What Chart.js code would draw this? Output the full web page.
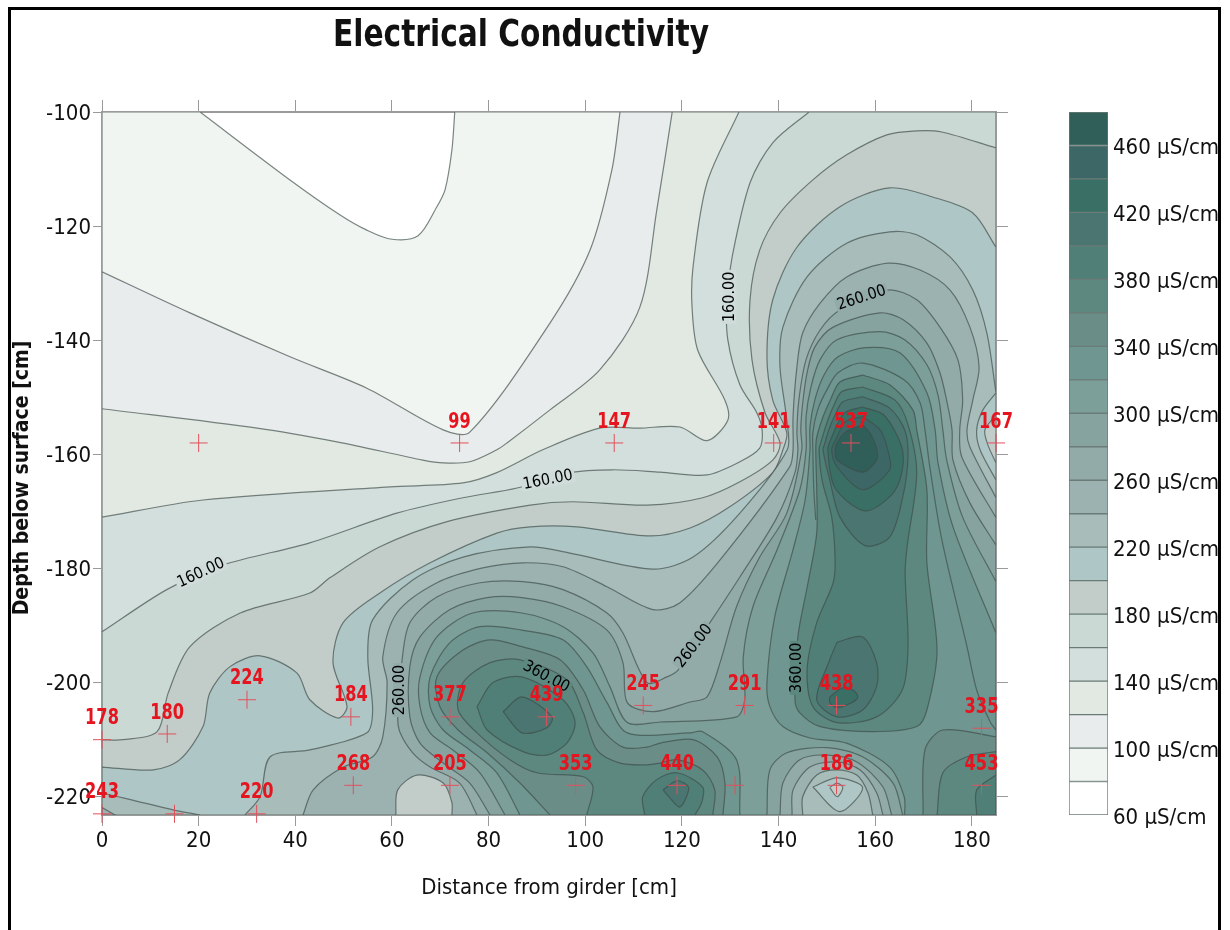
<!DOCTYPE html>
<html>
<head>
<title>Electrical Conductivity</title>
<meta charset="utf-8">
<style>
  html, body { margin: 0; padding: 0; background: #fff; overflow: hidden; }
  #frame { position: absolute; left: 8px; top: 7px; width: 1207px; height: 930px; border: 3px solid #000; box-sizing: content-box; }
  #plot { position: absolute; left: 0; top: 0; }
  #scale { position: absolute; left: 1069px; top: 100px; }
</style>
</head>
<body>
<div id="frame"></div>
<canvas id="plot" width="1230" height="930"></canvas>
<canvas id="scale" width="155" height="740"></canvas>
<script src="https://cdn.jsdelivr.net/npm/chart.js@4/dist/chart.umd.min.js"></script>
<script>
// axis values
const xTicks = [0, 20, 40, 60, 80, 100, 120, 140, 160, 180];
const yTicks = [-220, -200, -180, -160, -140, -120, -100];
const scaleTicks = [60, 100, 140, 180, 220, 260, 300, 340, 380, 420, 460];

// one colour per 20 uS/cm band, from 60 up to 480
const bandLevels = [60, 80, 100, 120, 140, 160, 180, 200, 220, 240, 260, 280, 300, 320, 340, 360, 380, 400, 420, 440, 460];
const bandColors = ['#ffffff', '#f1f5f1', '#e8ecec', '#e2e9e3', '#d3dfdd', '#cbd9d5', '#c2cdc9', '#afc6c6', '#a8bcb9', '#9bb2b1', '#92aba9',
  '#86a39f', '#7c9f99', '#6f9690', '#6b8d88', '#5c8880', '#4f7f77', '#4a7571', '#3a6f65', '#3d6767', '#2f5f58'];

// measurement points
const pointX = [74, 106, 139, 155, 185, 20, 92, 72, 51.5, 30, 13.5, 0, 112, 133, 152, 182, 52, 72, 98, 119, 131, 152, 182, 0, 15, 32];
const pointY = [-158, -158, -158, -158, -158, -158, -206, -206, -206, -203, -209, -210, -204, -204, -204, -208, -218, -218, -218, -218, -218, -218, -218, -223, -223, -223];
const pointText = ['99', '147', '141', '537', '167', '', '439', '377', '184', '224', '180', '178', '245', '291', '438', '335', '268', '205', '353', '440', '', '186', '453', '243', '', '220'];

// labels sitting on the contour lines
const lineText = ['160.00', '260.00', '160.00', '160.00', '260.00', '360.00', '260.00', '360.00'];
const lineX = [129.9, 157.2, 20.5, 92.3, 61.7, 91.9, 122.5, 143.8];
const lineY = [-132.4, -132.6, -180.8, -164.5, -201.3, -199, -193.6, -197.4];
const lineTurn = [-90, -18, -25, -11, -90, 28, -52, -90];
const lineGap = ['#cfdcd9', '#92aba9', '#cfdcd9', '#cfdcd9', '#92aba9', '#5c8880', '#92aba9', '#5c8880'];

// contours, [distance, depth]
const c80 = [[0,-100],[20.3,-100],[38.9,-111.9],[49.2,-118],[54.8,-120.7],[60,-122.3],[65.4,-121.7],[69.3,-116.6],[71,-113.6],[72.4,-106.7],[73,-100],[185,-100],[185,-223.2],[0,-223.2]];
const c100 = [[0,-128],[18.2,-135.2],[38.9,-142.9],[54.8,-148.4],[70.6,-155.7],[76.1,-156.1],[92.7,-137],[101,-124.2],[105.5,-110.2],[107.2,-100],[185,-100],[185,-223.2],[0,-223.2]];
const c120 = [[0,-152],[32.1,-155.4],[48.6,-157.8],[66.4,-161],[70.6,-161.5],[76.1,-161.3],[81.7,-159.2],[83.8,-158],[92.7,-152.2],[103,-145.2],[111.3,-134.2],[114.8,-117.2],[118,-100],[185,-100],[185,-223.2],[0,-223.2]];
const c140 = [[0,-171],[20.9,-168],[59.6,-165.7],[74.7,-165],[81.7,-163.2],[91.2,-159.2],[103,-155.4],[111.3,-155.4],[119.6,-155.2],[125.2,-157.6],[129.5,-154],[128.9,-150.5],[123.3,-141.8],[122.1,-134.2],[122.3,-127.2],[125.2,-112.4],[131.8,-100],[185,-100],[185,-223.2],[0,-223.2]];
const c160 = [[0,-191.1],[13.4,-183.7],[25,-179.4],[43,-175.5],[61,-170.3],[74.7,-167.6],[85.9,-165.9],[96.8,-163.2],[105.7,-162.7],[115.5,-163.1],[125.2,-163.6],[132,-161.3],[136.1,-158.9],[136.6,-155.7],[135.5,-152.7],[132,-147.8],[129.5,-139.9],[129.3,-132.9],[130.4,-125.4],[134.1,-112.4],[138.8,-105.4],[146.3,-100],[185,-100],[185,-223.2],[0,-223.2]];
const c180 = [[0,-210],[4.3,-210],[11.4,-208.6],[13.7,-201.8],[18.2,-193.7],[28.6,-187.8],[43,-184.3],[47.2,-181.6],[57.5,-176.2],[71.4,-171.8],[88.6,-168.9],[97.4,-168.3],[112.8,-168.9],[124.3,-167.6],[132,-164.8],[138.8,-161],[140.3,-158],[137.2,-152.7],[134.5,-143.4],[134.1,-132.9],[136.1,-124.2],[140.3,-117.7],[147.1,-111.9],[154.1,-107.5],[162.4,-104],[168.6,-103.3],[173.8,-103.5],[185,-106.3],[185,-223.2],[0,-223.2]];
const c200 = [[0,-214.8],[10.6,-215.3],[16.1,-213.5],[20.9,-207.7],[22.3,-201.8],[26.5,-197.2],[32.7,-195.3],[40.3,-198.3],[43,-203],[48.8,-206.2],[50.7,-204.2],[47.8,-196.5],[49.9,-189.5],[57.5,-184.3],[67.9,-179],[81.7,-173.8],[88.6,-172.7],[98.3,-172.7],[113.4,-174.3],[121.7,-172.9],[129.9,-169.2],[138.8,-163.2],[140.9,-159.2],[141.7,-156.2],[138.8,-150.5],[137.6,-142.9],[138.8,-132.9],[143.8,-123.7],[152.7,-116.6],[163,-113.3],[171.9,-114.9],[180.2,-117.7],[185,-123.7],[185,-153.1],[182.7,-155.7],[183.3,-158.3],[185,-161.5],[185,-223.2],[0,-223.2]];
const c220a = [[0,-219.3],[14.7,-222.3],[20.3,-223.2],[0,-223.2]];
const c220b = [[29.6,-223.2],[32.7,-220],[34.8,-213],[43,-211.8],[54.8,-208.8],[56,-204.8],[55,-195.5],[56,-189],[64.3,-182],[74.7,-178],[88.6,-176.2],[96.8,-177.3],[114,-180.1],[122.3,-178],[132,-170.3],[141.8,-159.2],[141.7,-154],[140.3,-144.7],[140.9,-137.7],[145.9,-128.9],[154.1,-123],[163,-121],[168.6,-121.5],[175.5,-125.4],[180.2,-131.2],[183.1,-138.7],[185,-149.2],[182.3,-152.2],[181,-155.7],[181.7,-159.2],[185,-164.5],[185,-223.2]];
const c240a = [[0,-221.9],[2.7,-223.2],[0,-223.2]];
const c240b = [[41.6,-223.2],[43.7,-218.8],[49.9,-214.8],[56,-213],[58.1,-209.5],[59,-200],[58.1,-195.5],[61,-187.8],[69.3,-182.5],[78.8,-179.9],[87.1,-179],[95.4,-179.7],[104.5,-183.2],[114,-187.2],[119.6,-186],[127.9,-178.5],[142.3,-162.2],[143,-159.2],[143,-153.4],[143.8,-144.7],[145,-138.7],[148.6,-133.5],[154.1,-128.9],[162.6,-126.5],[169.3,-127.7],[175.5,-131.2],[179.6,-137.7],[181.5,-144.7],[180.2,-150.5],[179,-155.7],[179.6,-158.7],[185,-167.6],[185,-223.2]];
const c260 = [[77.6,-223.2],[74,-217.6],[67.9,-214.8],[64.3,-212.3],[61.7,-208.8],[61.2,-206],[62.1,-196],[63.7,-189.5],[69.3,-185],[78.2,-182.5],[87.1,-182.3],[95.4,-183.7],[104.5,-187.8],[107.8,-191.3],[112.8,-200],[116.9,-199],[119.2,-197.8],[125.8,-189.5],[132,-181.5],[139.7,-171],[143.4,-163.2],[144,-159.2],[143.8,-156.2],[144.2,-150.5],[145.7,-143.4],[148.6,-138.2],[152.7,-134.7],[162.6,-131.2],[168.6,-132.9],[173.4,-137.7],[177.1,-143.4],[178.1,-150.5],[177.5,-155.7],[177.9,-160.4],[185,-171.1],[185,-223.2]];
const c280 = [[80.3,-223.2],[76.1,-217.6],[70.6,-214.1],[65.8,-210.6],[63.7,-206],[63.7,-197.2],[65.8,-192],[72,-187.2],[79.7,-185.1],[86.9,-185.1],[95.4,-186.7],[104.5,-190.8],[107.8,-196.5],[108.7,-203.5],[114,-205.1],[121.7,-203.4],[125.2,-202.5],[127.9,-196.5],[131.3,-186.7],[136.1,-178],[141.7,-170.3],[144.8,-159.2],[144.6,-155.7],[145,-151],[145.9,-145.7],[147.5,-141.2],[151.3,-137.7],[161,-135.2],[165.8,-136.4],[170.7,-140.5],[173.4,-145.7],[174.9,-151],[175.9,-155.7],[176.1,-161],[179.6,-168.5],[185,-175.9],[185,-223.2]];
const c300 = [[83.4,-223.2],[78.2,-215.8],[72.6,-211.8],[67.9,-208.8],[65.8,-204.2],[65.8,-199],[69.3,-192],[76.7,-187.8],[86.9,-187.8],[95.4,-190.2],[101.6,-194.8],[105.1,-200.7],[108.7,-207],[115.5,-206.9],[131.3,-206],[133,-203],[132.7,-195.5],[134.7,-186.7],[139.7,-176.7],[144.4,-166.2],[145.7,-159.2],[145.7,-153.4],[146.7,-148.2],[148.6,-143.4],[152.1,-139.9],[161,-138.5],[166.1,-139.9],[170.7,-144.3],[173,-149.6],[174,-155.7],[174.8,-161],[178.1,-171],[185,-182.3],[185,-223.2]];
const c320a = [[86.5,-223.2],[81.7,-215.8],[76.1,-211.8],[70.6,-208.3],[67.9,-204.2],[67.9,-199],[72,-193],[78.2,-190.2],[86.9,-190.8],[95.4,-192.5],[100.3,-197.2],[104.5,-203.5],[108.7,-208.8],[121.7,-208.8],[124.3,-208.6],[131.3,-213.5],[132,-223.2]];
const c320b = [[166.1,-223.2],[166,-220],[163,-214.8],[154.1,-210.6],[146.5,-209.7],[140.9,-207.7],[138.2,-204.2],[137.6,-200],[139.2,-188.5],[143,-176.7],[145.5,-168],[146.5,-159.2],[146.5,-155.2],[147.5,-150.5],[149.4,-146.1],[152.3,-142.9],[157.9,-141.3],[165.1,-142.2],[170.7,-149.2],[172.4,-155.7],[173,-161.5],[176.1,-172.7],[185,-191.3],[185,-223.2]];
const c340a = [[92.7,-223.2],[86.5,-217.6],[79.7,-212.3],[73.7,-208.3],[69.9,-204.2],[69.3,-199],[74.7,-194.3],[80.3,-192.5],[86.9,-193.7],[94.8,-196],[99.6,-201.3],[103,-207.7],[107.8,-211.3],[112.8,-211.3],[115.5,-210.6],[122.3,-210],[127.3,-213],[128.9,-217.6],[128.5,-223.2]];
const c340b = [[169.9,-223.2],[170.3,-211.8],[174,-208.3],[185,-209.5],[185,-223.2]];
const c360a = [[100.3,-223.2],[101.6,-218.3],[99.6,-216.5],[90,-215.8],[84.4,-213.5],[77.6,-208.8],[73.7,-204.8],[74.7,-200],[80.3,-196.5],[86.5,-196],[96.2,-199.5],[99.6,-205.3],[102.4,-211.8],[107.2,-214.1],[112.8,-214.4],[115.5,-214.1],[119,-213.5],[124.3,-215.3],[126.8,-218.8],[126.4,-223.2]];
const c360b = [[157.4,-146.1],[163,-147.8],[167.8,-152.2],[168.6,-155.7],[170.7,-166.2],[170.7,-179],[172.8,-194.3],[170.7,-204.8],[168.6,-207.7],[159.5,-208.6],[148.6,-207.7],[144.4,-205.3],[143.4,-203],[144,-192],[146.1,-182.5],[147.9,-173.8],[147.9,-166.2],[147.7,-159.2],[147.9,-157],[149.2,-153.4],[150.7,-150.5],[152.7,-147.3]];
const c360c = [[172.8,-223.2],[174,-215.8],[179,-213],[185,-212.1],[185,-223.2]];
const c380a = [[77.6,-204.2],[80.9,-200],[86.9,-199],[95.4,-203],[97.9,-207],[96.2,-210.6],[92.1,-212.7],[87.1,-212.1],[79.7,-208.3]];
const c380b = [[112.3,-223.2],[111.9,-220],[114.8,-217],[119,-215.8],[124.3,-218.3],[124.1,-221],[122.7,-223.2]];
const c380c = [[157.4,-148.2],[164.1,-150.5],[166.8,-154.8],[168.6,-163.2],[166.6,-176.2],[166.2,-180.8],[166.8,-193.7],[165.6,-201.3],[160.3,-206],[152.1,-207],[147.1,-204.2],[145.9,-197.8],[147.9,-189.5],[151.3,-182.5],[151.7,-178.5],[151,-171],[149,-164.5],[148.4,-159.2],[148.8,-157.8],[150,-154.5],[151.3,-151.7],[153.1,-149]];
const c380d = [[181,-223.2],[181,-218.8],[185,-216.2],[185,-223.2]];
const c400a = [[83,-205.1],[86.9,-202.5],[93.1,-206],[92.1,-207.9],[86.9,-208.8]];
const c400b = [[116.1,-218.8],[119,-217.2],[121.4,-218.4],[119.6,-221.8],[117.5,-220.2]];
const c400c = [[157.4,-149.9],[163,-151.9],[166.1,-155.7],[166.8,-160.4],[165.7,-167.5],[163,-174.5],[157.9,-176],[152.7,-171],[150.6,-164.5],[149.2,-159.2],[149.6,-158],[150.4,-155.7],[151.7,-153.1],[153.3,-150.8]];
const c400d = [[152.1,-192.9],[157.4,-192],[160.3,-196.5],[160.3,-200.7],[157.4,-204.8],[152.1,-206],[147.9,-203],[150.6,-196]];
const c420a = [[157.4,-151.7],[161.8,-153.1],[165.5,-158.7],[165.5,-163.2],[163.4,-167.1],[157.9,-169.9],[151.7,-165.9],[150.2,-159.2],[151,-157],[152.3,-154.5],[153.8,-152.6]];
const c420b = [[150.6,-202.5],[153.3,-200.9],[155.4,-201.3],[156.4,-202.5],[155.2,-203.5],[152.1,-204.4],[150.6,-203.5]];
const c440 = [[157.4,-153.4],[161,-155.7],[162.6,-159.2],[163,-162.7],[157.4,-166.2],[152.1,-162.2],[151,-159.2],[152.1,-157],[153.8,-154.3]];
const c460 = [[157.4,-154.8],[158.9,-156.2],[160.3,-158.9],[160.3,-161],[157.4,-163.1],[152.1,-161],[151.7,-159.2],[152.1,-158],[153.8,-156.1]];
// low spots, each one filled with the band under its line
const low300 = [[137.6,-223.2],[138.2,-215.3],[141.7,-212.3],[150.1,-211.4],[157.4,-213],[163.7,-217.6],[165.7,-223.2]];
const low280 = [[140.3,-223.2],[140.9,-217.6],[144.4,-213.5],[150.1,-212.7],[156.2,-213.9],[161.6,-218.3],[163.4,-223.2]];
const low260 = [[142.8,-223.2],[143,-218.8],[146.5,-214.8],[152.1,-213.9],[156.9,-215.3],[160.3,-219.3],[161.6,-223.2]];
const low240 = [[145,-223.2],[145,-220],[147.9,-216.2],[152.1,-215.3],[156.2,-216.2],[158.5,-219.3],[159.5,-223.2]];
const low220 = [[147.1,-218.3],[152.1,-216.7],[157.4,-218.4],[152.7,-222.6]];
const low200 = [[150.6,-218.4],[152.1,-217.6],[153.3,-218.4],[152.1,-220]];
const low205 = [[60.8,-223.2],[61.2,-218.8],[65.2,-216.2],[70.6,-217.6],[72.4,-221],[72.4,-223.2]];
// line only, the 340 level on the ridge
const line340 = [[185,-208.3],[183.8,-206.9],[181,-201.3],[179,-193.7],[173.8,-175],[171.3,-162.2],[170.3,-155.7],[169.3,-151],[166.1,-147],[157.4,-144],[152.3,-145.7],[150,-148.7],[148.1,-152.2],[147.1,-156.2],[147.1,-159.2],[147.3,-166.2],[147.7,-171.5]];

// paint order, low to high, each with the band it fills
const contours = [[c80,80],[c100,100],[c120,120],[c140,140],[c160,160],[c180,180],[c200,200],[c220a,220],[c220b,220],[c240a,240],[c240b,240],[c260,260],[c280,280],[c300,300],
  [c320a,320],[c320b,320],[c340a,340],[c340b,340],[c360a,360],[c360b,360],[c360c,360],[c380a,380],[c380b,380],[c380c,380],[c380d,380],
  [c400a,400],[c400b,400],[c400c,400],[c400d,400],[c420a,420],[c420b,420],[c440,440],[c460,460],
  [low300,280],[low280,260],[low260,240],[low240,220],[low220,200],[low200,180],[low205,180]];

const X_MAX = 185, Y_MIN = -223.2, Y_MAX = -100;
const FONT = '"DejaVu Sans Condensed", "DejaVu Sans", sans-serif';
const LINE = 'rgba(62,76,72,0.68)';
const AXIS = '#9a9a9a';

// points on the plot edge go in twice so the curve stays straight along the edge
function toPoints(list) {
  var out = [];
  list.forEach(function (p) {
    out.push({x: p[0], y: p[1]});
    if (p[0] === 0 || p[0] === X_MAX || p[1] === Y_MIN || p[1] === Y_MAX) out.push({x: p[0], y: p[1]});
  });
  return out;
}

var datasets = contours.map(function (c, i) {
  return {
    label: 'level ' + c[1],
    data: toPoints(c[0].concat([c[0][0]])),
    showLine: true,
    fill: 'shape',
    backgroundColor: bandColors[bandLevels.indexOf(c[1])],
    borderColor: LINE,
    borderWidth: 1.2,
    pointRadius: 0,
    tension: 0.3,
    order: 100 - i
  };
});

datasets.push({
  label: 'level 340 ridge',
  data: toPoints(line340),
  showLine: true,
  fill: false,
  borderColor: LINE,
  borderWidth: 1.2,
  pointRadius: 0,
  tension: 0.3,
  order: 5
});

datasets.push({
  label: 'measured',
  data: pointX.map((x, i) => ({x: x, y: pointY[i]})),
  showLine: false,
  pointStyle: 'cross',
  pointRadius: 9,
  pointBorderColor: '#e2505c',
  pointBorderWidth: 1,
  clip: false,
  order: 1
});

// text on top of the marks, plus the title
var textLayer = {
  id: 'textLayer',
  afterDraw(chart) {
    var ctx = chart.ctx, xs = chart.scales.x, ys = chart.scales.y;
    ctx.save();
    ctx.textAlign = 'center';
    ctx.textBaseline = 'middle';

    ctx.fillStyle = '#111';
    ctx.save();
    ctx.translate(521, 36);
    ctx.scale(1, 1.12);
    ctx.font = 'bold 33px ' + FONT;
    ctx.fillText('Electrical Conductivity', 0, 0);
    ctx.restore();

    ctx.save();
    ctx.translate(23, 478);
    ctx.rotate(-Math.PI / 2);
    ctx.font = 'bold 21px ' + FONT;
    ctx.fillText('Depth below surface [cm]', 0, 0);
    ctx.restore();

    ctx.font = '16px ' + FONT;
    lineText.forEach(function (t, i) {
      ctx.save();
      ctx.translate(xs.getPixelForValue(lineX[i]), ys.getPixelForValue(lineY[i]));
      ctx.rotate(lineTurn[i] * Math.PI / 180);
      ctx.fillStyle = lineGap[i];
      ctx.fillRect(-27, -7, 54, 14);
      ctx.fillStyle = '#000';
      ctx.fillText(t, 0, 0);
      ctx.restore();
    });

    ctx.fillStyle = '#e6141e';
    ctx.font = 'bold 18px ' + FONT;
    pointText.forEach(function (t, i) {
      if (!t) return;
      ctx.save();
      ctx.translate(xs.getPixelForValue(pointX[i]), ys.getPixelForValue(pointY[i]) - 21);
      ctx.scale(1, 1.2);
      ctx.fillText(t, 0, 0);
      ctx.restore();
    });
    ctx.restore();
  }
};

function plotAxis(position, ticks, size, showLabels, tickLength, title) {
  return {
    type: 'linear',
    position: position,
    z: 1,
    border: {color: AXIS, width: 2},
    grid: {drawOnChartArea: false, color: AXIS, lineWidth: 1, tickLength: tickLength},
    ticks: {
      display: showLabels,
      color: '#111',
      font: {family: FONT, size: 22},
      padding: 2,
      maxRotation: 0,
      autoSkip: false,
      labelOffset: position === 'left' ? 2 : 0
    },
    title: title,
    afterBuildTicks(scale) { scale.ticks = ticks.map(v => ({value: v})); },
    afterFit(scale) {
      if (position === 'left' || position === 'right') scale.width = size; else scale.height = size;
    }
  };
}

var xRange = {min: 0, max: X_MAX};
var yRange = {min: Y_MIN, max: Y_MAX};

new Chart(document.getElementById('plot').getContext('2d'), {
  type: 'scatter',
  data: {datasets: datasets},
  plugins: [textLayer],
  options: {
    responsive: false,
    animation: false,
    layout: {padding: 0},
    plugins: {legend: {display: false}, tooltip: {enabled: false}},
    scales: {
      x: Object.assign(plotAxis('bottom', xTicks, 115, true, 11, {
        display: true, text: 'Distance from girder [cm]', color: '#111', font: {family: FONT, size: 22}, padding: {top: 14, bottom: 29}
      }), xRange),
      x2: Object.assign(plotAxis('top', xTicks, 112, false, 12), xRange),
      y: Object.assign(plotAxis('left', yTicks, 102, true, 9), yRange),
      y2: Object.assign(plotAxis('right', yTicks, 234, false, 12), yRange)
    }
  }
});

// colour scale, a chart of its own
new Chart(document.getElementById('scale').getContext('2d'), {
  type: 'bar',
  data: {
    labels: [''],
    datasets: bandLevels.map(function (lo, i) {
      return {
        label: lo + ' uS/cm',
        data: [[lo, lo + 20]],
        backgroundColor: bandColors[i],
        borderColor: '#6b7b77',
        borderWidth: 1,
        borderSkipped: false,
        grouped: false,
        barPercentage: 1,
        categoryPercentage: 1
      };
    })
  },
  options: {
    responsive: false,
    animation: false,
    layout: {padding: {top: 12, bottom: 25}},
    plugins: {legend: {display: false}, tooltip: {enabled: false}},
    scales: {
      x: {display: false},
      y: {
        position: 'right',
        min: 60,
        max: 480,
        border: {display: false},
        grid: {display: false, drawTicks: false},
        ticks: {
          color: '#111',
          padding: 5,
          labelOffset: 3,
          font: {family: FONT, size: 22},
          callback: v => v + ' µS/cm'
        },
        afterBuildTicks(scale) { scale.ticks = scaleTicks.map(v => ({value: v})); },
        afterFit(scale) { scale.width = 116; scale.paddingTop = 0; scale.paddingBottom = 0; }
      }
    }
  }
});
</script>
</body>
</html>
